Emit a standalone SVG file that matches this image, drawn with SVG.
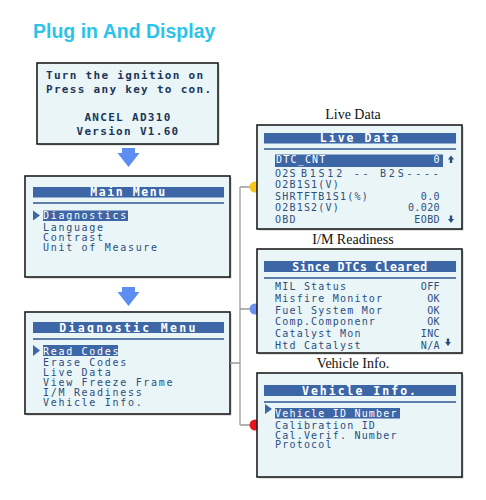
<svg xmlns="http://www.w3.org/2000/svg" width="486" height="500" viewBox="0 0 486 500">
<style>
.box{fill:#eaf5f8;stroke:#1e1e1e;stroke-width:1.6}
.shadow{fill:#c8c8c8}
.bar{fill:#3d66a6}
.sep{stroke:#2f5590;stroke-width:1.5}
.hl{fill:#3d66a6}
.ptr{fill:#3d66a6}
.lcd1{font-family:"DejaVu Sans Mono",monospace;font-size:11px;font-weight:bold;fill:#1d3658;letter-spacing:1.3px}
.item{font-family:"DejaVu Sans Mono",monospace;font-size:10px;fill:#2b4f7e;letter-spacing:1.7px}
.itemn{font-family:"DejaVu Sans Mono",monospace;font-size:10px;fill:#2b4f7e;letter-spacing:1.2px}
.w{fill:#ffffff}
.ttl{font-family:"DejaVu Sans Mono",monospace;font-size:11.5px;font-weight:bold;fill:#ffffff;letter-spacing:1.6px;text-anchor:middle}
.lbl{font-family:"Liberation Serif",serif;font-size:14px;fill:#111;text-anchor:middle}
.end{text-anchor:end}
.v{letter-spacing:0.4px}
.conn{stroke:#9a9a9a;stroke-width:1.3;fill:none}
.arrow{fill:#5b8ef0}
</style>
<defs>
<path id="down" d="M-6.5,0 H6.5 V5 H11 L0,19 L-11,5 H-6.5 Z"/>
</defs>

<text x="33" y="38" font-family="Liberation Sans, Arial, sans-serif" font-size="19.5" font-weight="bold" fill="#2cc3e8">Plug in And Display</text>

<g id="start">
<rect x="38.5" y="64.5" width="181" height="81" class="shadow"/>
<rect x="37" y="63" width="181" height="81" class="box"/>
<text x="46" y="79" class="lcd1">Turn the ignition on</text>
<text x="46" y="93" class="lcd1">Press any key to con.</text>
<text x="128" y="121" class="lcd1" text-anchor="middle">ANCEL AD310</text>
<text x="128" y="135" class="lcd1" text-anchor="middle">Version V1.60</text>
</g>

<use href="#down" x="128.5" y="148" class="arrow"/>
<use href="#down" x="128.5" y="287" class="arrow"/>

<g id="main-menu">
<rect x="26.5" y="177.5" width="205" height="101" class="shadow"/>
<rect x="25" y="176" width="205" height="101" class="box"/>
<rect x="33" y="187" width="191" height="10.5" class="bar"/>
<text x="128.5" y="196" class="ttl">Main Menu</text>
<line x1="33" y1="203" x2="224" y2="203" class="sep"/>
<polygon points="33,210.5 40,215.5 33,220.5" class="ptr"/>
<rect x="43" y="210.5" width="85" height="10.5" class="hl"/>
<text x="43" y="219" class="item w">Diagnostics</text>
<text x="43" y="230.5" class="item">Language</text>
<text x="43" y="241" class="item">Contrast</text>
<text x="43" y="251" class="item">Unit of Measure</text>
</g>

<g id="diagnostic-menu">
<rect x="26.5" y="313.5" width="205" height="102" class="shadow"/>
<rect x="25" y="312" width="205" height="102" class="box"/>
<rect x="33" y="322" width="191" height="11" class="bar"/>
<text x="128.5" y="331.5" class="ttl" style="letter-spacing:2.3px">Diagnostic Menu</text>
<line x1="33" y1="339" x2="224" y2="339" class="sep"/>
<polygon points="33,345 40,350.5 33,356" class="ptr"/>
<rect x="43" y="345" width="75" height="11" class="hl"/>
<text x="43" y="354.5" class="item w">Read Codes</text>
<text x="43" y="366" class="item">Erase Codes</text>
<text x="43" y="376" class="item">Live Data</text>
<text x="43" y="386" class="item">View Freeze Frame</text>
<text x="43" y="396" class="item">I/M Readiness</text>
<text x="43" y="406" class="item">Vehicle Info.</text>
</g>

<g id="connectors">
<path d="M240,187 V425 M240,187 H255 M240,309 H255 M240,425 H255 M230,363 H240" class="conn"/>
<circle cx="255" cy="187" r="5.5" fill="#f6c516"/>
<circle cx="255" cy="309" r="5.5" fill="#6a90f0"/>
<circle cx="255" cy="425" r="5.5" fill="#e8141b"/>
</g>

<g id="live-data">
<text x="353" y="119" class="lbl">Live Data</text>
<rect x="258.5" y="126.5" width="205" height="104" class="shadow"/>
<rect x="257" y="125" width="205" height="104" class="box"/>
<rect x="264" y="133" width="192" height="10.5" class="bar"/>
<text x="360" y="142" class="ttl" style="letter-spacing:2px">Live Data</text>
<line x1="264" y1="149" x2="456" y2="149" class="sep"/>
<rect x="275" y="154.5" width="168" height="12.5" class="hl"/>
<text x="276" y="162.5" class="itemn w">DTC_CNT</text>
<text x="440" y="162.5" class="itemn w end v">0</text>
<path d="M451,155.5 L454,159.5 H452.2 V163 H449.8 V159.5 H448 Z" fill="#2b4f7e"/>
<text x="275" y="176.5" class="itemn">O2S</text>
<text x="301" y="176.5" class="itemn" textLength="139" lengthAdjust="spacing">B1S12 -- B2S----</text>
<text x="275" y="188" class="itemn">O2B1S1(V)</text>
<text x="275" y="199.5" class="itemn">SHRTFTB1S1(%)</text>
<text x="440" y="199.5" class="itemn end v">0.0</text>
<text x="275" y="211" class="itemn">O2B1S2(V)</text>
<text x="440" y="211" class="itemn end v">0.020</text>
<text x="275" y="222.5" class="itemn">OBD</text>
<text x="440" y="222.5" class="itemn end v">EOBD</text>
<path d="M451,223 L454,219 H452.2 V215.5 H449.8 V219 H448 Z" fill="#2b4f7e"/>
</g>

<g id="im-readiness">
<text x="353" y="244" class="lbl">I/M Readiness</text>
<rect x="258.5" y="250.5" width="205" height="104" class="shadow"/>
<rect x="257" y="249" width="205" height="104" class="box"/>
<rect x="264" y="261" width="192" height="11" class="bar"/>
<text x="360" y="270.5" class="ttl" style="letter-spacing:0.6px">Since DTCs Cleared</text>
<line x1="264" y1="278" x2="456" y2="278" class="sep"/>
<text x="275" y="290" class="itemn">MIL Status</text>
<text x="440" y="290" class="itemn end v">OFF</text>
<text x="275" y="302" class="itemn">Misfire Monitor</text>
<text x="440" y="302" class="itemn end v">OK</text>
<text x="275" y="313.5" class="itemn">Fuel System Mor</text>
<text x="440" y="313.5" class="itemn end v">OK</text>
<text x="275" y="325" class="itemn">Comp.Componenr</text>
<text x="440" y="325" class="itemn end v">OK</text>
<text x="275" y="337" class="itemn">Catalyst Mon</text>
<text x="440" y="337" class="itemn end v">INC</text>
<text x="275" y="349" class="itemn">Htd Catalyst</text>
<text x="440" y="349" class="itemn end v">N/A</text>
<path d="M448,346 L451,342 H449.2 V338.5 H446.8 V342 H445 Z" fill="#2b4f7e"/>
</g>

<g id="vehicle-info">
<text x="353" y="368" class="lbl">Vehicle Info.</text>
<rect x="258.5" y="374.5" width="205" height="104" class="shadow"/>
<rect x="257" y="373" width="205" height="104" class="box"/>
<rect x="264" y="385" width="192" height="11" class="bar"/>
<text x="360" y="394.5" class="ttl" style="letter-spacing:2px">Vehicle Info.</text>
<line x1="264" y1="402" x2="456" y2="402" class="sep"/>
<polygon points="265,404 272,409 265,414" class="ptr"/>
<rect x="275" y="408" width="125" height="10.5" class="hl"/>
<text x="275" y="417" class="itemn w">Vehicle ID Number</text>
<text x="275" y="428.5" class="itemn">Calibration ID</text>
<text x="275" y="438.5" class="itemn">Cal.Verif. Number</text>
<text x="275" y="448" class="itemn">Protocol</text>
</g>
</svg>
